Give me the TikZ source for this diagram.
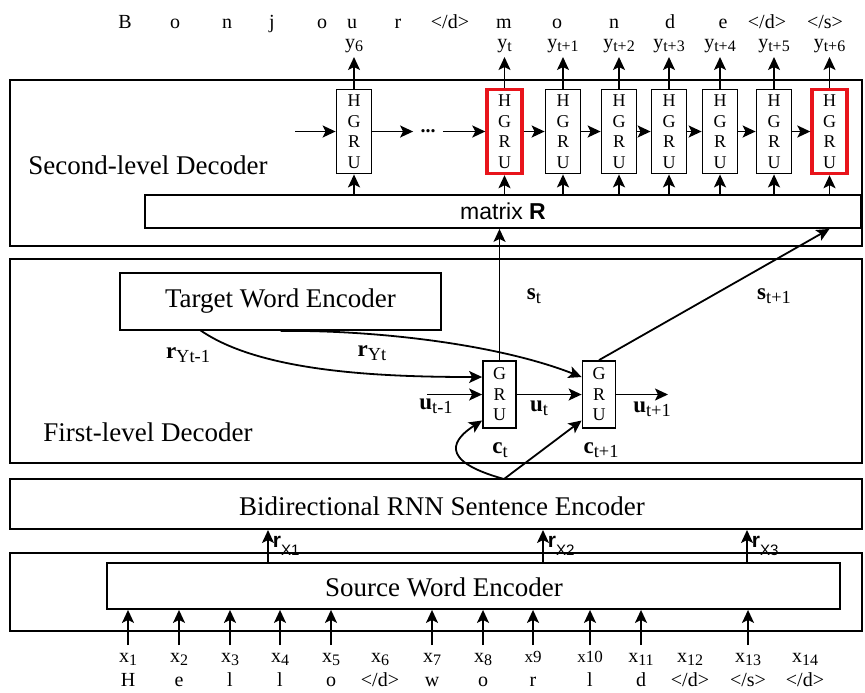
\documentclass[tikz,border=0pt]{standalone}
\usepackage{fontspec}
\setmainfont{Liberation Serif}
\setsansfont{Liberation Sans}
\usepackage{graphicx}
\usepackage{xcolor}
\usepackage{tikz}
\usetikzlibrary{positioning, arrows.meta}
\definecolor{hgRed}{HTML}{E8141B}
\newcommand{\lo}[1]{\raisebox{-0.4ex}{\scalebox{0.8}{#1}}}
\newcommand{\loX}[1]{\raisebox{-0.7ex}{\scalebox{0.72}{#1}}}
\newcommand{\EoW}{</d>}
\newcommand{\EoS}{</s>}

\begin{document}
\begin{tikzpicture}[
    x=0.5pt, y=-0.5pt,
    >={Stealth[length=6.5pt, width=6pt, inset=1.5pt]},
    layer/.style={
        draw, line width=1pt, inner sep=0pt, minimum width=426pt
    },
    encbox/.style={
        draw, line width=0.9pt, inner sep=0pt,
        font=\fontsize{13.5}{16}\selectfont
    },
    title/.style={font=\fontsize{13.5}{16}\selectfont, inner sep=0pt},
    hgru/.style={
        draw, line width=0.9pt, inner sep=0pt,
        minimum width=17.5pt, minimum height=42pt,
        align=center, font=\fontsize{9}{10.3}\selectfont
    },
    hgruhl/.style={hgru, draw=hgRed, line width=1.7pt},
    gru/.style={
        draw, line width=0.9pt, inner sep=0pt,
        minimum width=16.5pt, minimum height=33.5pt,
        align=center, font=\fontsize{9}{10.3}\selectfont
    },
    word/.style={font=\fontsize{10}{12}\selectfont, anchor=base, inner sep=0pt},
    ylab/.style={font=\fontsize{10}{12}\selectfont, anchor=south, inner sep=2pt},
    vec/.style={font=\fontsize{11.5}{13}\selectfont, inner sep=1pt},
    rxlab/.style={font=\sffamily\fontsize{10.5}{12}\selectfont, inner sep=2pt},
    arr/.style={->, line width=0.9pt},
]
\useasboundingbox (0,0) rectangle (865,692);

%% =================================================================
%% Second-level decoder (top)
%% =================================================================
\node[layer, minimum height=83pt] (secdec) at (436,163) {};
\node[title] (secdecT) at (148,165) {Second-level Decoder};

\node[encbox, minimum width=358pt, minimum height=16.5pt,
      font=\sffamily\fontsize{11.5}{14}\selectfont] (matR)
    at (503,211.5) {matrix \textbf{R}};

%% HGRU cells, outputs above
\foreach \i/\x/\s/\t in {1/354/hgru/6, 2/504.5/hgruhl/t, 3/563/hgru/t+1,
        4/619/hgru/t+2, 5/669/hgru/t+3, 6/720/hgru/t+4,
        7/774/hgru/t+5, 8/829.5/hgruhl/t+6}{
    \node[\s] (hg\i) at (\x,131.5) {H\\G\\R\\U};
    \node[ylab] (y\i) at (\x,57) {y\lo{\t}};
    \draw[arr] (hg\i.north) -- (y\i.south);
    \draw[arr] (hg\i.south |- matR.north) -- (hg\i.south);
}

\coordinate (hin) at (295,131.5);
\node[font=\fontsize{10}{10}\selectfont\bfseries, inner xsep=3.5pt, inner ysep=0pt] (dots)
    at (428,131.5) {...};
\draw[arr] (hin) -- (hg1);
\draw[arr] (hg1) -- (dots);
\draw[arr] (dots) -- (hg2);
\foreach \i/\j in {2/3, 3/4, 4/5, 5/6, 6/7, 7/8}
    \draw[arr] (hg\i) -- (hg\j);

%% Output words
\foreach \x/\w [count=\k] in {125/B, 175/o, 227/n, 272/j, 322/o, 352/u, 398/r,
        450/\EoW, 504/m, 557/o, 614/n, 670/d, 723/e, 767/\EoW, 825/\EoS}
    \node[word] (tw\k) at (\x,28) {\w};

%% =================================================================
%% First-level decoder (middle)
%% =================================================================
\node[layer, minimum height=102pt] (firdec) at (436,361) {};
\node[title] (firdecT) at (148,432) {First-level Decoder};

\node[encbox, minimum width=160.5pt, minimum height=28.5pt] (twe)
    at (280.5,301.5) {Target Word Encoder};

\node[gru] (gru1) at (499.5,394.5) {G\\R\\U};
\node[gru] (gru2) at (599,394.5) {G\\R\\U};

\coordinate (ryprev) at (200,330);
\coordinate (uprev) at (427,394.5);
\coordinate (unext) at (668,394.5);
\coordinate (ctop) at (504,479);

\draw[arr] (ryprev) .. controls (260,372) and (380,377) .. ([yshift=8.75pt]gru1.west);
\draw[arr] (twe.south) .. controls (380,330) and (500,345) .. ([yshift=8.75pt]gru2.west);
\draw[arr] (uprev) -- (gru1.west);
\draw[arr] (ctop) .. controls (435,460) and (455,438) .. ([yshift=-13pt]gru1.west);
\draw[arr] (ctop) -- ([yshift=-13pt]gru2.west);
\draw[arr] (gru1) -- (gru2);
\draw[arr] (gru2) -- (unext);

%% GRU states -> matrix R
\draw[arr] (gru1.north) -- (gru1.north |- matR.south);
\draw[arr] (gru2.north) -- (hg8.south |- matR.south);

\node[vec] (lryp) at (188,355) {\textbf{r}\lo{Yt-1}};
\node[vec] (lry) at (372,353) {\textbf{r}\lo{Yt}};
\node[vec] (lup) at (436,406) {\textbf{u}\lo{t-1}};
\node[vec] (lu) at (539,408) {\textbf{u}\lo{t}};
\node[vec] (lun) at (652,409) {\textbf{u}\lo{t+1}};
\node[vec] (lc) at (500,450) {\textbf{c}\lo{t}};
\node[vec] (lcn) at (601,450) {\textbf{c}\lo{t+1}};
\node[vec] (ls) at (534,296) {\textbf{s}\lo{t}};
\node[vec] (lsn) at (774,296) {\textbf{s}\lo{t+1}};

%% =================================================================
%% Encoders (bottom)
%% =================================================================
\node[layer, minimum height=25pt] (bienc) at (436,504) {};
\node[title] (biencT) at (442,506) {Bidirectional RNN Sentence Encoder};

\node[layer, minimum height=39pt] (srcbox) at (436,592) {};
\node[encbox, minimum width=366.5pt, minimum height=23pt] (swe) at (473.5,586) {};
\node[title] (sweT) at (444,587) {Source Word Encoder};

\foreach \x/\i in {268/1, 543/2, 747/3}{
    \coordinate (rxc\i) at (\x,0);
    \draw[arr] (rxc\i |- swe.north) -- (rxc\i |- bienc.south)
        node[rxlab, midway, right] (rxl\i) {{\bfseries r}\loX{X\i}};
}

%% Inputs
\coordinate (inrow) at (0,645);
\foreach \x/\s/\w [count=\k] in {128/{x\lo{1}}/H, 179/{x\lo{2}}/e, 230/{x\lo{3}}/l,
        280/{x\lo{4}}/l, 331/{x\lo{5}}/o, 380/{x\lo{6}}/\EoW, 432/{x\lo{7}}/w,
        483/{x\lo{8}}/o, 533/{\fontsize{8.5}{10}\selectfont x9}/r,
        590/{\fontsize{8.5}{10}\selectfont x10}/l, 641/{x\lo{11}}/d,
        690/{x\lo{12}}/\EoW, 748/{x\lo{13}}/\EoS, 805/{x\lo{14}}/\EoW}{
    \node[word] (xl\k) at (\x,662) {\s};
    \node[word] (xw\k) at (\x,686) {\w};
}
\foreach \k in {1,...,5,7,8,9,10,11,13}
    \draw[arr] (xl\k |- inrow) -- (xl\k |- swe.south);

\end{tikzpicture}
\end{document}
